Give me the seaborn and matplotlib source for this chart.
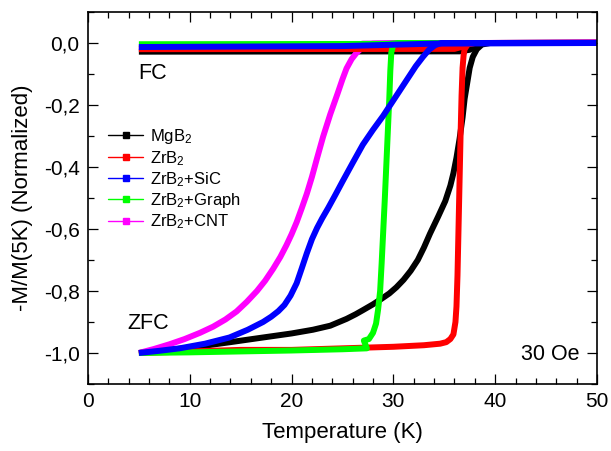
import matplotlib
matplotlib.use("Agg")
import matplotlib.pyplot as plt
import numpy as np
import pandas as pd
import seaborn as sns
from matplotlib.lines import Line2D
from matplotlib.ticker import FuncFormatter, MultipleLocator

# ZFC branches
mgb2_zfc_t = [5, 8, 10.7, 14, 17.2, 20, 22.1, 23.8, 25.4, 26.3, 27, 28, 28.8, 29.6, 30.3, 31.0, 31.7, 32.4, 33.0,
              33.6, 34.4, 35.1, 35.6, 35.9, 36.2, 36.5, 36.8, 37.0, 37.3, 37.5, 37.8, 38.2, 38.7, 39.5, 50]
mgb2_zfc_m = [-1.0, -0.99, -0.98, -0.965, -0.95, -0.937, -0.925, -0.912, -0.89, -0.875, -0.862, -0.843, -0.826,
              -0.808, -0.788, -0.764, -0.735, -0.70, -0.66, -0.615, -0.56, -0.51, -0.46, -0.42, -0.37, -0.31,
              -0.24, -0.18, -0.12, -0.08, -0.045, -0.02, -0.005, 0.0, 0.002]

zrb2_zfc_t = [5, 10, 15, 20, 25, 30, 33, 34.6, 35.2, 35.6, 35.9, 36.1, 36.2, 36.3, 36.4, 36.5, 36.6, 36.7, 36.8,
              36.9, 37.0, 37.3, 38, 50]
zrb2_zfc_m = [-1.0, -0.995, -0.99, -0.99, -0.985, -0.98, -0.975, -0.97, -0.965, -0.955, -0.94, -0.90, -0.85, -0.75,
              -0.6, -0.45, -0.3, -0.17, -0.08, -0.04, -0.02, -0.005, 0.0, 0.0]

sic_zfc_t = [5, 7, 9, 11.5, 13.9, 15.7, 17.2, 18.0, 18.7, 19.3, 19.9, 20.5, 21.0, 21.5, 22.0, 22.5, 23.0, 23.6,
             24.3, 25.0, 26.0, 27.0, 28.0, 29.0, 30.0, 30.8, 31.5, 32.2, 32.9, 33.5, 34.1, 34.7, 36, 50]
sic_zfc_m = [-1.0, -0.993, -0.985, -0.97, -0.95, -0.925, -0.90, -0.883, -0.865, -0.845, -0.815, -0.775, -0.727,
             -0.678, -0.633, -0.597, -0.566, -0.532, -0.49, -0.447, -0.387, -0.328, -0.28, -0.235, -0.185, -0.145,
             -0.11, -0.075, -0.045, -0.022, -0.007, 0.0, 0.0, 0.0]

graph_zfc_t = [5, 10, 15, 20, 25, 27.4, 27.1, 27.6, 28.0, 28.3, 28.5, 28.7, 28.85, 29.0, 29.15, 29.3, 29.45, 29.6,
               29.7, 29.8, 30.0, 30.5, 35, 50]
graph_zfc_m = [-1.0, -0.998, -0.995, -0.992, -0.988, -0.985, -0.96, -0.955, -0.935, -0.905, -0.86, -0.80, -0.71,
               -0.61, -0.51, -0.40, -0.29, -0.18, -0.09, -0.03, -0.005, 0.0, 0.0, 0.0]

cnt_zfc_t = [5, 6.5, 8, 9.5, 11, 12.3, 13.5, 14.6, 15.6, 16.6, 17.4, 18.2, 18.9, 19.5, 20.0, 20.5, 21.0, 21.5, 22.0,
             22.5, 23.1, 23.8, 24.5, 25.0, 25.4, 25.9, 26.4, 26.9, 27.4, 28, 30, 50]
cnt_zfc_m = [-1.0, -0.987, -0.972, -0.955, -0.935, -0.915, -0.892, -0.866, -0.835, -0.80, -0.767, -0.728, -0.69,
             -0.652, -0.617, -0.578, -0.533, -0.486, -0.432, -0.372, -0.302, -0.23, -0.165, -0.117, -0.082,
             -0.052, -0.031, -0.016, -0.006, -0.002, 0.0, 0.0]

# FC branches
mgb2_fc_t = [5, 36.5, 37.5, 38.3, 39, 50]
mgb2_fc_m = [-0.028, -0.027, -0.022, -0.008, 0.0, 0.0]
zrb2_fc_t = [5, 36.0, 36.8, 37.2, 38, 50]
zrb2_fc_m = [-0.02, -0.019, -0.012, -0.003, 0.0, 0.0]
sic_fc_t = [5, 25, 34, 50]
sic_fc_m = [-0.013, -0.010, -0.002, 0.0]
graph_fc_t = [5, 29.5, 30.5, 50]
graph_fc_m = [-0.004, -0.003, 0.0, 0.0]
cnt_fc_t = [5, 25.5, 27, 50]
cnt_fc_m = [-0.016, -0.013, -0.002, 0.002]

samples = ["MgB2", "ZrB2", "ZrB2+SiC", "ZrB2+Graph", "ZrB2+CNT"]
labels = ["MgB$_2$", "ZrB$_2$", "ZrB$_2$+SiC", "ZrB$_2$+Graph", "ZrB$_2$+CNT"]
colors = ["#000000", "#FF0000", "#0000FF", "#00FF00", "#FF00FF"]
draw_order = ["MgB2", "ZrB2+CNT", "ZrB2", "ZrB2+Graph", "ZrB2+SiC"]

branches = {
    "MgB2": [(mgb2_zfc_t, mgb2_zfc_m), (mgb2_fc_t, mgb2_fc_m)],
    "ZrB2": [(zrb2_zfc_t, zrb2_zfc_m), (zrb2_fc_t, zrb2_fc_m)],
    "ZrB2+SiC": [(sic_zfc_t, sic_zfc_m), (sic_fc_t, sic_fc_m)],
    "ZrB2+Graph": [(graph_zfc_t, graph_zfc_m), (graph_fc_t, graph_fc_m)],
    "ZrB2+CNT": [(cnt_zfc_t, cnt_zfc_m), (cnt_fc_t, cnt_fc_m)],
}

rows = []
for name in draw_order:
    for b, (ts, ms) in zip(["ZFC", "FC"], branches[name]):
        for t, m in zip(ts, ms):
            rows.append({"sample": name, "branch": b, "T": t, "M": m})
df = pd.DataFrame(rows)

sns.set_style("ticks")
plt.rcParams["font.family"] = ["Liberation Sans", "DejaVu Sans"]
plt.rcParams["mathtext.fontset"] = "custom"
plt.rcParams["mathtext.rm"] = "Liberation Sans"
plt.rcParams["mathtext.default"] = "regular"
plt.rcParams["axes.unicode_minus"] = False
for key in ["text.color", "axes.labelcolor", "xtick.color", "ytick.color", "axes.edgecolor"]:
    plt.rcParams[key] = "black"

fig = plt.figure(figsize=(6.11, 4.51), dpi=100)
ax = fig.add_axes([0.144, 0.1486, 0.833, 0.8248])

palette = dict(zip(samples, colors))
sns.lineplot(
    data=df, x="T", y="M", hue="sample", units="branch", hue_order=draw_order,
    palette=palette, estimator=None, sort=False, linewidth=4.3, legend=False, ax=ax,
    solid_joinstyle="round", solid_capstyle="butt",
)

ax.set_xlim(0, 50)
ax.set_ylim(-1.1, 0.1)
ax.xaxis.set_major_locator(MultipleLocator(10))
ax.xaxis.set_minor_locator(MultipleLocator(2))
ax.yaxis.set_major_locator(MultipleLocator(0.2))
ax.yaxis.set_minor_locator(MultipleLocator(0.1))
ax.yaxis.set_major_formatter(FuncFormatter(lambda v, p: f"{v:.1f}".replace(".", ",").replace("-0,0", "0,0")))
ax.tick_params(axis="both", which="both", direction="in", top=True, right=True, labelsize=15, pad=6, width=0.9)
ax.tick_params(axis="both", which="major", length=7)
ax.tick_params(axis="both", which="minor", length=4)
for s in ax.spines.values():
    s.set_linewidth(1.2)

ax.set_xlabel("Temperature (K)", fontsize=16, labelpad=8)
ax.set_ylabel("-M/M(5K) (Normalized)", fontsize=16, labelpad=8)

ax.text(4.9, -0.097, "FC", fontsize=15.5, va="center", ha="left")
ax.text(3.9, -0.905, "ZFC", fontsize=15.5, va="center", ha="left")
ax.text(48.3, -1.006, "30 Oe", fontsize=15.5, va="center", ha="right")

handles = [Line2D([0], [0], color=c, lw=1, marker="s", markersize=4.5) for c in colors]
ax.legend(handles, labels, loc="upper left", bbox_to_anchor=(0.04, 0.69), frameon=False,
          fontsize=12, handlelength=2.1, handletextpad=0.4, labelspacing=0.15,
          borderaxespad=0, borderpad=0)

fig.savefig("out.png", dpi=100)
